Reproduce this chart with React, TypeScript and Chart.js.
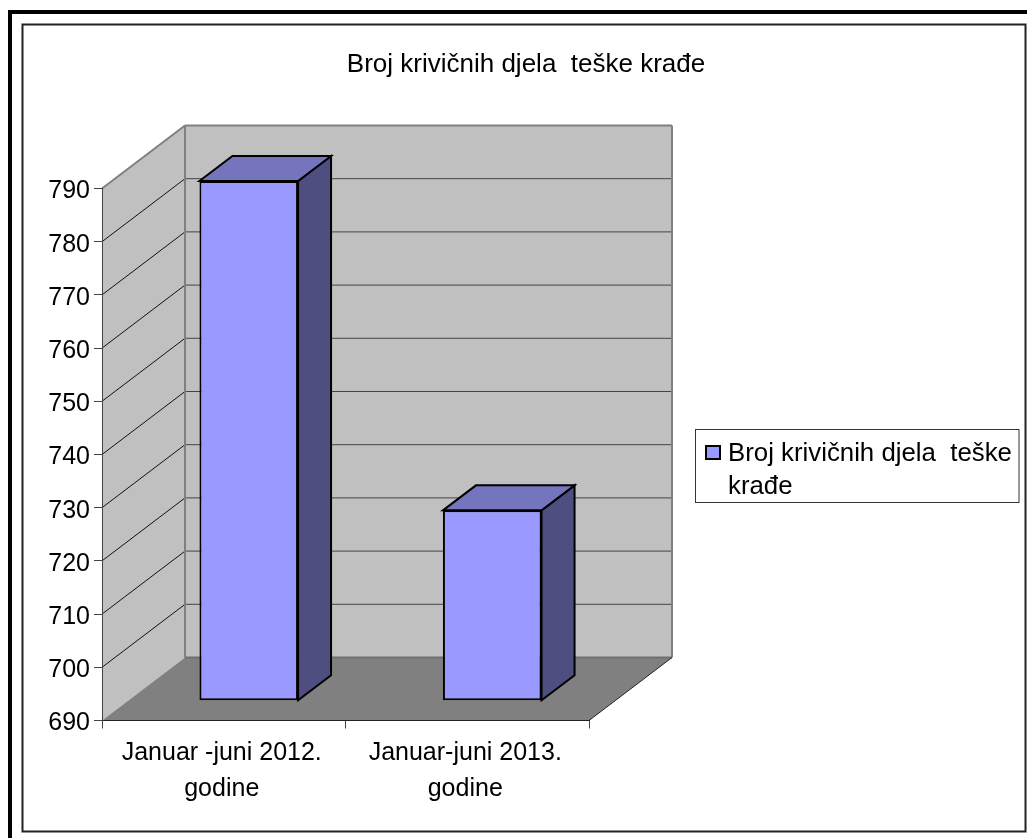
import React, { useEffect, useRef } from "react";
import { Chart, registerables } from "chart.js";

Chart.register(...registerables);

const categories = [
  ["Januar -juni 2012.", "godine"],
  ["Januar-juni 2013.", "godine"],
];
const seriesName = "Broj krivičnih djela  teške krađe";
const legendLines = ["Broj krivičnih djela  teške", "krađe"];
const seriesValues = [787.7, 725.8];
const yMin = 690;
const yMax = 790;
const yStep = 10;

const FONT = "'Liberation Sans', Arial, sans-serif";
const WALL_DX = 83;
const WALL_DY = -63;
const BAR_SHIFT_X = 25;
const BAR_SHIFT_Y = -19.7;
const BAR_DX = 33;
const BAR_DY = -25;

function poly(ctx: CanvasRenderingContext2D, pts: number[][], fill?: string, stroke?: string, lw = 1) {
  ctx.beginPath();
  pts.forEach((p, i) => (i ? ctx.lineTo(p[0], p[1]) : ctx.moveTo(p[0], p[1])));
  ctx.closePath();
  if (fill) {
    ctx.fillStyle = fill;
    ctx.fill();
  }
  if (stroke) {
    ctx.strokeStyle = stroke;
    ctx.lineWidth = lw;
    ctx.lineJoin = "miter";
    ctx.stroke();
  }
}

function line(ctx: CanvasRenderingContext2D, a: number[], b: number[], color: string, lw = 1) {
  ctx.beginPath();
  ctx.moveTo(a[0], a[1]);
  ctx.lineTo(b[0], b[1]);
  ctx.strokeStyle = color;
  ctx.lineWidth = lw;
  ctx.stroke();
}

const pseudo3d = {
  id: "pseudo3d",
  afterLayout(chart: any) {
    const t = chart.titleBlock;
    if (t) {
      t.left = 12.5;
      t.right = 1039.5;
      t.top = 49;
      t.bottom = 81;
    }
  },
  beforeDraw(chart: any) {
    const { ctx, chartArea: a, scales } = chart;
    const y = scales.y;
    const dx = WALL_DX;
    const dy = WALL_DY;
    ctx.save();
    // page frames
    ctx.fillStyle = "#000";
    ctx.fillRect(8, 10, 4, 828);
    ctx.fillRect(8, 10, 1019, 4);
    ctx.strokeStyle = "#222";
    ctx.lineWidth = 2;
    ctx.strokeRect(22.5, 24.5, 1003, 807);

    // walls and floor
    poly(ctx, [[a.left, a.top], [a.left + dx, a.top + dy], [a.left + dx, a.bottom + dy], [a.left, a.bottom]], "#c0c0c0");
    poly(ctx, [[a.left + dx, a.top + dy], [a.right + dx, a.top + dy], [a.right + dx, a.bottom + dy], [a.left + dx, a.bottom + dy]], "#c0c0c0");
    poly(ctx, [[a.left, a.bottom], [a.right, a.bottom], [a.right + dx, a.bottom + dy], [a.left + dx, a.bottom + dy]], "#808080");

    // grid lines
    y.ticks.forEach((tk: any) => {
      if (tk.value <= yMin || tk.value >= yMax) return;
      const py = y.getPixelForValue(tk.value);
      line(ctx, [a.left, py], [a.left + dx, py + dy], "#111", 1);
      line(ctx, [a.left + dx, py + dy], [a.right + dx, py + dy], "#444", 1);
    });

    // wall edges
    line(ctx, [a.left, a.top], [a.left + dx, a.top + dy], "#808080", 2);
    line(ctx, [a.left + dx, a.top + dy], [a.right + dx, a.top + dy], "#808080", 2);
    line(ctx, [a.left + dx, a.top + dy], [a.left + dx, a.bottom + dy], "#808080", 2);
    line(ctx, [a.right + dx, a.top + dy], [a.right + dx, a.bottom + dy], "#808080", 2);
    line(ctx, [a.left + dx, a.bottom + dy], [a.right + dx, a.bottom + dy], "#707070", 2);
    line(ctx, [a.right, a.bottom], [a.right + dx, a.bottom + dy], "#222", 1);
    ctx.restore();
  },
  beforeDatasetDraw(chart: any, args: any) {
    const { ctx } = chart;
    const meta = chart.getDatasetMeta(args.index);
    ctx.save();
    ctx.translate(BAR_SHIFT_X, BAR_SHIFT_Y);
    meta.data.forEach((el: any) => {
      const p = el.getProps(["x", "y", "base", "width"], true);
      const l = p.x - p.width / 2;
      const r = p.x + p.width / 2;
      poly(ctx, [[r, p.y], [r + BAR_DX, p.y + BAR_DY], [r + BAR_DX, p.base + BAR_DY], [r, p.base]], "#4e4e80", "#000", 2);
      poly(ctx, [[l, p.y], [l + BAR_DX, p.y + BAR_DY], [r + BAR_DX, p.y + BAR_DY], [r, p.y]], "#7575bd", "#000", 2);
    });
  },
  afterDatasetDraw(chart: any) {
    chart.ctx.restore();
  },
  afterDraw(chart: any) {
    const { ctx } = chart;
    ctx.save();
    ctx.fillStyle = "#fff";
    ctx.fillRect(696, 429.5, 323, 73);
    ctx.strokeStyle = "#333";
    ctx.lineWidth = 1;
    ctx.strokeRect(695.5, 429.5, 323.5, 73);
    ctx.fillStyle = "#9999ff";
    ctx.fillRect(706, 446, 14, 13);
    ctx.strokeStyle = "#000";
    ctx.lineWidth = 2;
    ctx.strokeRect(706, 446, 14, 13);
    ctx.fillStyle = "#000";
    ctx.font = "25.8px " + FONT;
    ctx.textBaseline = "middle";
    ctx.textAlign = "left";
    legendLines.forEach((s, i) => ctx.fillText(s, 728, 454 + i * 33));
    ctx.restore();
  },
};

export default function App() {
  const ref = useRef<HTMLCanvasElement>(null);
  useEffect(() => {
    const chart = new Chart(ref.current as HTMLCanvasElement, {
      type: "bar",
      data: {
        labels: categories as any,
        datasets: [
          {
            label: seriesName,
            data: seriesValues,
            base: yMin,
            backgroundColor: "#9999ff",
            borderColor: "#000",
            borderWidth: 2,
            borderSkipped: false,
            barPercentage: 0.405,
            categoryPercentage: 1,
            clip: false as any,
          },
        ],
      },
      options: {
        responsive: false,
        animation: false,
        devicePixelRatio: 1,
        layout: { padding: { left: 0, top: 157.3, right: 438, bottom: 0 } },
        font: { family: FONT },
        plugins: {
          legend: { display: false },
          tooltip: { enabled: false },
          title: {
            display: true,
            text: seriesName,
            color: "#000",
            padding: 0,
            font: { family: FONT, size: 26, weight: "normal", lineHeight: 1.2 },
          },
        },
        scales: {
          x: {
            afterFit(s: any) {
              s.height = 117.5;
            },
            grid: { drawOnChartArea: false, tickLength: 8, tickColor: "#444" },
            border: { color: "#222", width: 1 },
            ticks: {
              color: "#000",
              autoSkip: false,
              maxRotation: 0,
              labelOffset: -2,
              padding: 7,
              font: { family: FONT, size: 25, lineHeight: 1.42 },
            },
          },
          y: {
            min: yMin,
            max: yMax,
            afterFit(s: any) {
              s.width = 102;
            },
            grid: { drawOnChartArea: false, tickLength: 8, tickColor: "#444" },
            border: { color: "#444", width: 1 },
            ticks: {
              stepSize: yStep,
              color: "#000",
              padding: 4,
              labelOffset: 3,
              font: { family: FONT, size: 25 },
            },
          },
        },
      } as any,
      plugins: [pseudo3d as any],
    });
    return () => chart.destroy();
  }, []);
  return (
    <canvas
      ref={ref}
      width={1027}
      height={838}
      style={{ position: "fixed", left: 0, top: 0, display: "block", width: 1027, height: 838 }}
    />
  );
}
